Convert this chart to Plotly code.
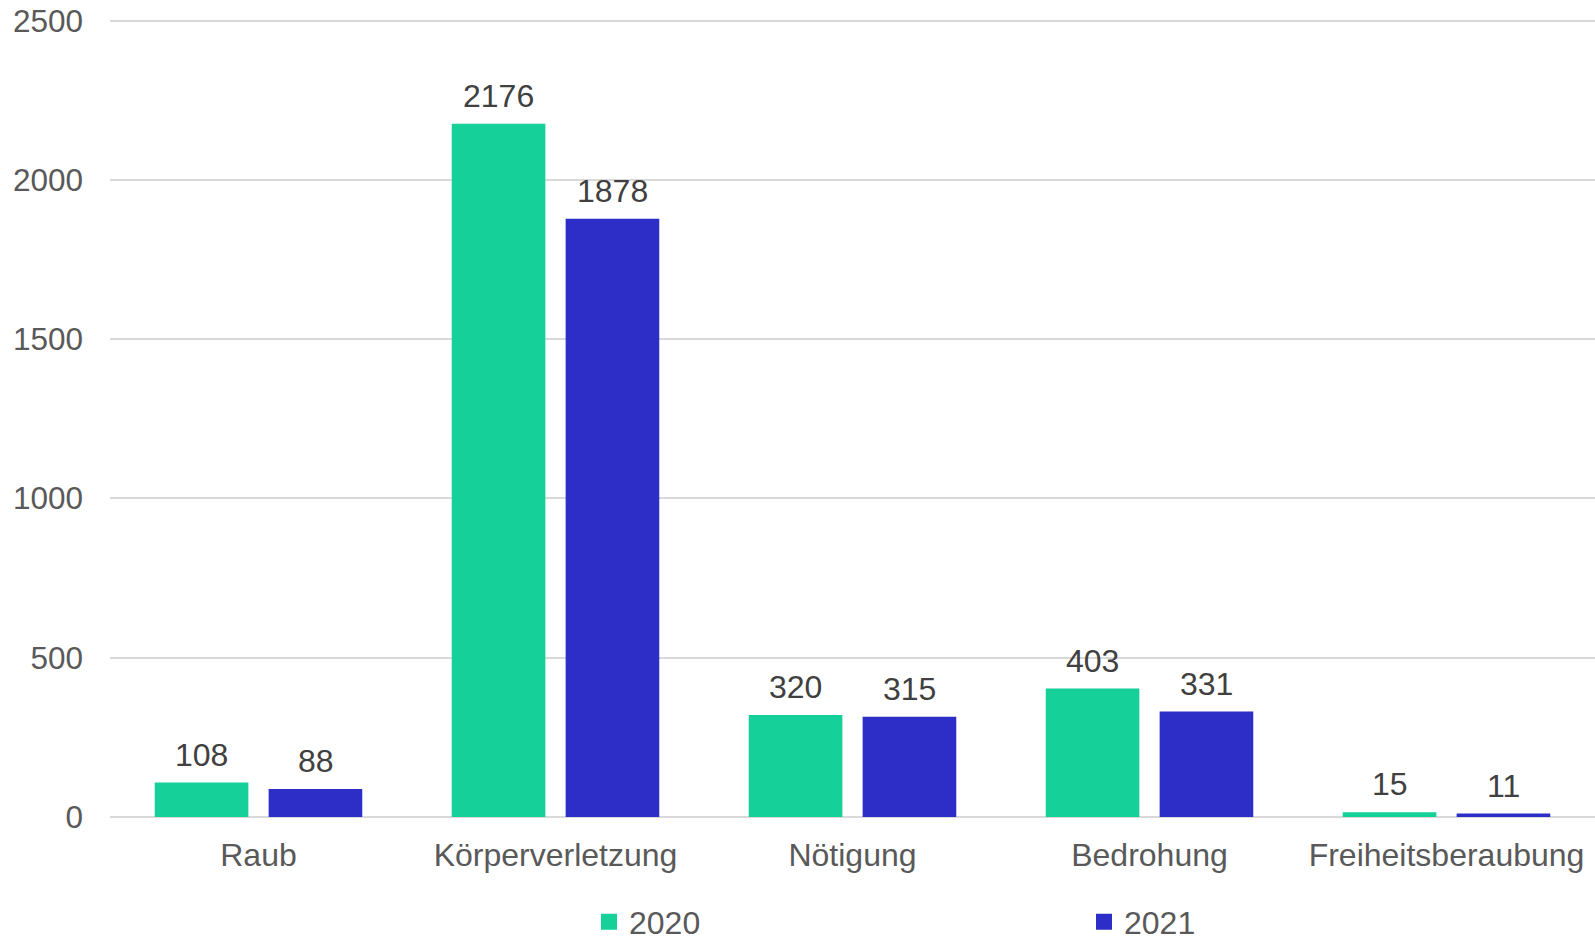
import plotly.graph_objects as go

categories = ["Raub", "Körperverletzung", "Nötigung", "Bedrohung", "Freiheitsberaubung"]
values_2020 = [108, 2176, 320, 403, 15]
values_2021 = [88, 1878, 315, 331, 11]
series_names = ["2020", "2021"]
y_ticks = [0, 500, 1000, 1500, 2000, 2500]

FONT = "Liberation Sans, Arial, sans-serif"
COLORS = ["#16D09A", "#2D2DC8"]
FS = 32
W, H = 1595, 940

fig = go.Figure()
for vals, name, col in [(values_2020, series_names[0], COLORS[0]),
                        (values_2021, series_names[1], COLORS[1])]:
    fig.add_trace(go.Bar(x=categories, y=vals, name=name, showlegend=False,
                         marker=dict(color=col, line=dict(width=0))))
# legend entries with square symbols
for name, col in zip(series_names, COLORS):
    fig.add_trace(go.Scatter(x=[None], y=[None], mode="markers", name=name,
                             marker=dict(symbol="square", size=16, color=col)))

# data labels above bars
slot_shift = 57
for vals, sh in [(values_2020, -slot_shift), (values_2021, slot_shift)]:
    for c, v in zip(categories, vals):
        fig.add_annotation(x=c, y=v, text=str(v), showarrow=False, xshift=sh,
                           yanchor="middle", yshift=28,
                           font=dict(color="#404040", size=FS, family=FONT))

fig.update_layout(
    width=W, height=H,
    margin=dict(l=110, r=0, t=19, b=123, autoexpand=False),
    paper_bgcolor="white", plot_bgcolor="white",
    barmode="group", bargap=0.233, bargroupgap=0.178,
    font=dict(family=FONT, size=FS, color="#595959"),
    showlegend=True,
    legend=dict(orientation="h", xref="container", x=589/W, xanchor="left",
                yref="container", y=18/H, yanchor="middle",
                font=dict(size=FS, color="#595959", family=FONT),
                entrywidth=450, entrywidthmode="pixels", itemwidth=30,
                itemsizing="trace"),
)
fig.update_yaxes(range=[0, 2505], tickvals=y_ticks, showgrid=True, gridcolor="#D9D9D9",
                 gridwidth=1.5, zeroline=True, zerolinecolor="#D9D9D9", zerolinewidth=2,
                 ticks="", ticklabelstandoff=26, automargin=False,
                 tickfont=dict(size=31.5, color="#595959"))
fig.update_xaxes(showline=False, ticks="", ticklabelstandoff=16, automargin=False,
                 tickfont=dict(size=FS, color="#595959"))

fig.write_html("out.html", config={"displayModeBar": False},
               post_script="document.body.style.margin='0';")
